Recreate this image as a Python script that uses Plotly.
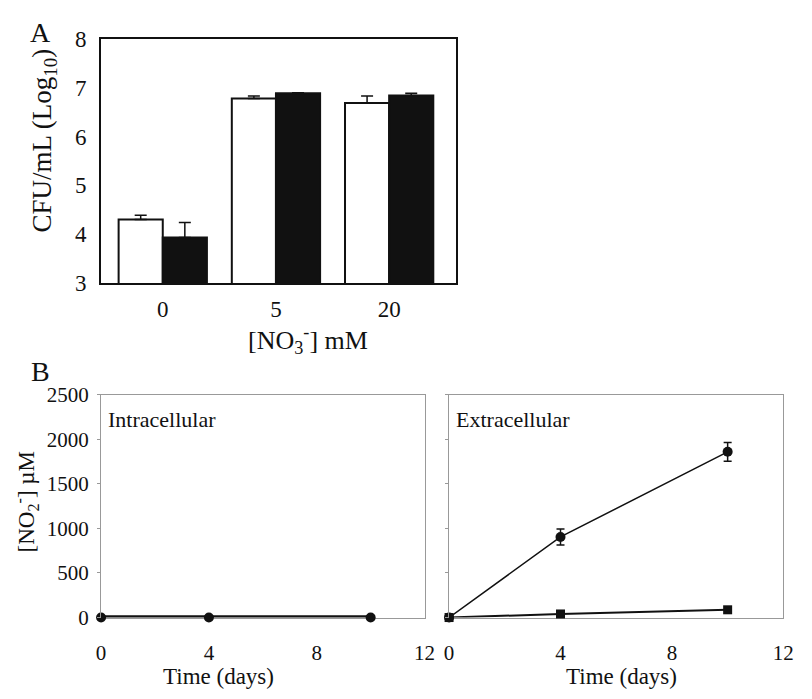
import plotly.graph_objects as go

# ---------------- data ----------------
# Panel A
nitrate_labels = ["0", "5", "20"]
cfu_open = [4.30, 6.78, 6.69]
cfu_open_err = [0.09, 0.05, 0.14]
cfu_filled = [3.93, 6.89, 6.84]
cfu_filled_err = [0.31, 0.01, 0.05]

# Panel B
time_days = [0, 4, 10]
intra_circle = [0, 0, 0]
extra_circle = [0, 905, 1860]
extra_circle_err = [0, 90, 105]
extra_square = [0, 40, 87]

W, H = 812, 699
FONT = "Liberation Serif"
TXT = "#111"


def dx(px):
    return px / W


def dy(py):
    return 1 - py / H


fig = go.Figure()

xcat = list(range(len(nitrate_labels)))

fig.add_trace(go.Bar(
    x=xcat, y=cfu_open, xaxis="x", yaxis="y",
    marker=dict(color="white", line=dict(color="#111", width=2)),
    error_y=dict(type="data", symmetric=False, array=cfu_open_err,
                 arrayminus=[0] * 3, color="#111", thickness=1.5, width=6),
    showlegend=False))
fig.add_trace(go.Bar(
    x=xcat, y=cfu_filled, xaxis="x", yaxis="y",
    marker=dict(color="#111", line=dict(color="#111", width=2)),
    error_y=dict(type="data", symmetric=False, array=cfu_filled_err,
                 arrayminus=[0] * 3, color="#111", thickness=1.5, width=6),
    showlegend=False))

# Panel B left
fig.add_trace(go.Scatter(
    x=time_days, y=intra_circle, xaxis="x2", yaxis="y2",
    mode="lines+markers", line=dict(color="#111", width=4.5),
    marker=dict(symbol="circle", size=10, color="#111"),
    showlegend=False, cliponaxis=False))

# Panel B right
fig.add_trace(go.Scatter(
    x=time_days, y=extra_square, xaxis="x3", yaxis="y3",
    mode="lines+markers", line=dict(color="#111", width=2),
    marker=dict(symbol="square", size=9, color="#111"),
    showlegend=False, cliponaxis=False))
fig.add_trace(go.Scatter(
    x=time_days, y=extra_circle, xaxis="x3", yaxis="y3",
    mode="lines+markers", line=dict(color="#111", width=1.5),
    marker=dict(symbol="circle", size=10, color="#111"),
    error_y=dict(type="data", array=extra_circle_err, color="#111",
                 thickness=1.5, width=4),
    showlegend=False, cliponaxis=False))

tickA = dict(family=FONT, size=23, color=TXT)
tickB = dict(family=FONT, size=21, color=TXT)

fig.update_layout(
    width=W, height=H, margin=dict(l=0, r=0, t=0, b=0),
    paper_bgcolor="white", plot_bgcolor="white",
    barmode="group", bargap=0.22, bargroupgap=0,
    font=dict(family=FONT, color=TXT),
    xaxis=dict(domain=[dx(98), dx(460)], anchor="y",
               range=[-0.545, 2.59], tickmode="array", tickvals=xcat,
               ticktext=nitrate_labels, ticks="", showgrid=False,
               zeroline=False, showline=True, mirror=True,
               linecolor="#111", linewidth=2, tickfont=tickA,
               ticklabelstandoff=4),
    yaxis=dict(domain=[dy(281), dy(28)], anchor="x",
               range=[3, 8], dtick=1, ticks="", showgrid=False,
               zeroline=False, showline=True, mirror=True,
               linecolor="#111", linewidth=2, tickfont=tickA,
               ticklabelstandoff=8),
    xaxis2=dict(domain=[dx(98), dx(428)], anchor="y2",
                range=[0, 12], tickvals=[0, 4, 8, 12], ticks="",
                showgrid=False, zeroline=False, showline=True, mirror=True,
                linecolor="#999", linewidth=1, tickfont=tickB,
                ticklabelstandoff=16, layer="below traces"),
    yaxis2=dict(domain=[dy(628), dy(397)], anchor="x2",
                range=[0, 2500], dtick=500, ticks="outside", ticklen=3,
                tickcolor="#999", showgrid=False, zeroline=False,
                showline=True, mirror=True, linecolor="#999", linewidth=1,
                tickfont=tickB, ticklabelstandoff=4),
    xaxis3=dict(domain=[dx(453), dx(794)], anchor="y3",
                range=[0, 12], tickvals=[0, 4, 8, 12], ticks="",
                showgrid=False, zeroline=False, showline=True, mirror=True,
                linecolor="#999", linewidth=1, tickfont=tickB,
                ticklabelstandoff=16, layer="below traces"),
    yaxis3=dict(domain=[dy(628), dy(397)], anchor="x3",
                range=[0, 2500], dtick=500, ticks="outside", ticklen=3,
                tickcolor="#999", showticklabels=False, showgrid=False,
                zeroline=False, showline=True, mirror=True,
                linecolor="#999", linewidth=1),
)

ann = [
    dict(text="A", x=dx(36), y=dy(21), size=28),
    dict(text="B", x=dx(36), y=dy(373), size=28),
    dict(text="CFU/mL (Log<sub>10</sub>)", x=dx(40), y=dy(133), size=27, angle=-90),
    dict(text="[NO<sub>3</sub><sup>-</sup>] mM", x=dx(309), y=dy(340), size=26),
    dict(text="[NO<sub>2</sub><sup>-</sup>] µM", x=dx(22), y=dy(508), size=23, angle=-90),
    dict(text="Time (days)", x=dx(218), y=dy(689), size=23),
    dict(text="Time (days)", x=dx(629), y=dy(689), size=23),
]
for a in ann:
    fig.add_annotation(text=a["text"], x=a["x"], y=a["y"], xref="paper",
                       yref="paper", showarrow=False, xanchor="center",
                       yanchor="middle", textangle=a.get("angle", 0),
                       font=dict(family=FONT, size=a["size"], color=TXT))

fig.add_annotation(text="Intracellular", x=dx(103), y=dy(423), xref="paper",
                   yref="paper", showarrow=False, xanchor="left",
                   yanchor="middle", font=dict(family=FONT, size=22, color=TXT))
fig.add_annotation(text="Extracellular", x=dx(458), y=dy(423), xref="paper",
                   yref="paper", showarrow=False, xanchor="left",
                   yanchor="middle", font=dict(family=FONT, size=22, color=TXT))

fig.write_html("out.html")
